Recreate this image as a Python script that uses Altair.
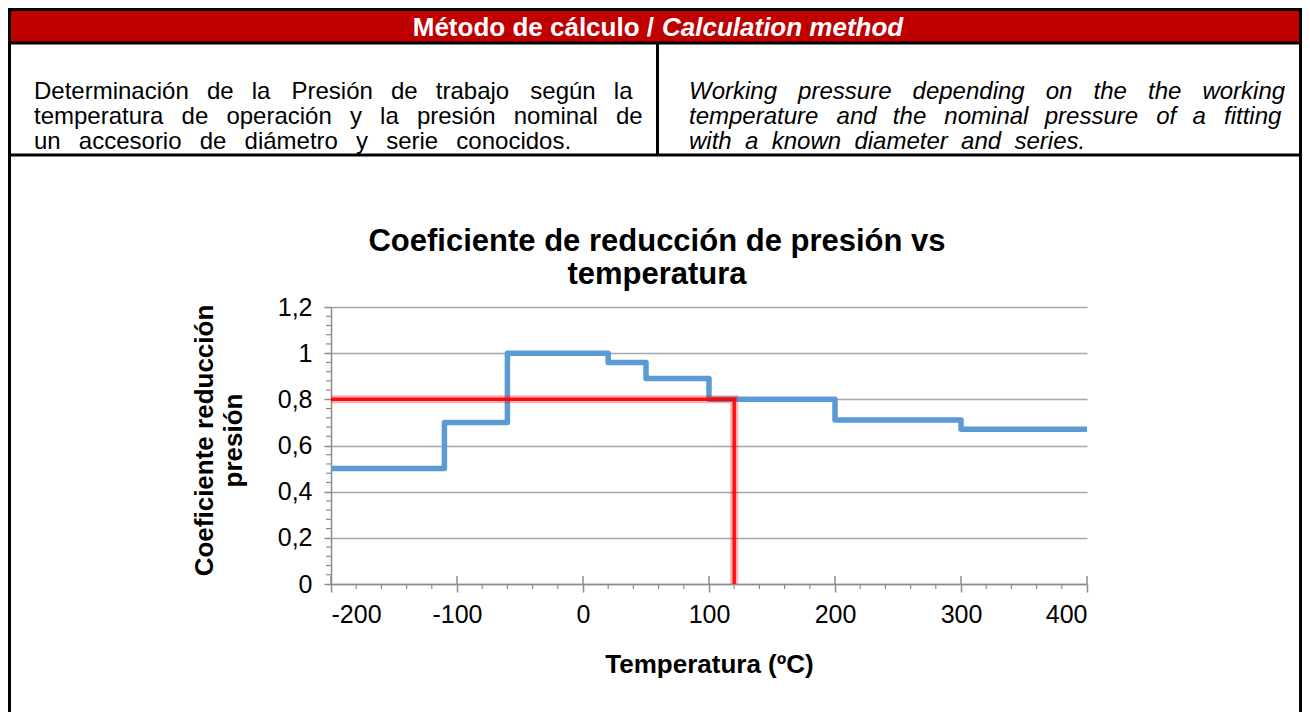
import altair as alt
import pandas as pd

# ---------------- data ----------------
temp_steps = [-200, -110, -60, 20, 50, 100, 200, 300, 400]
coef_steps = [0.5, 0.7, 1.0, 0.96, 0.89, 0.8, 0.71, 0.67, 0.67]
op_temp = [-200, 120, 120]
op_coef = [0.8, 0.8, 0.0]
x_ticks = [-200, -100, 0, 100, 200, 300, 400]
x_minor = [-180, -160, -140, -120, -80, -60, -40, -20, 20, 40, 60, 80,
           120, 140, 160, 180, 220, 240, 260, 280, 320, 340, 360, 380]
y_ticks = [0, 0.2, 0.4, 0.6, 0.8, 1.0, 1.2]
y_minor = [0.04, 0.08, 0.12, 0.16, 0.24, 0.28, 0.32, 0.36, 0.44, 0.48, 0.52, 0.56,
           0.64, 0.68, 0.72, 0.76, 0.84, 0.88, 0.92, 0.96, 1.04, 1.08, 1.12, 1.16]

header_es = "Método de cálculo /"
header_en = "Calculation method"
text_es = ["Determinación de la Presión de trabajo según la",
           "temperatura de operación y la presión nominal de",
           "un accesorio de diámetro y serie conocidos."]
text_en = ["Working pressure depending on the the working",
           "temperature and the nominal pressure of a fitting",
           "with a known diameter and series."]
title_lines = ["Coeficiente de reducción de presión vs", "temperatura"]
y_title = ["Coeficiente reducción", "presión"]
x_title = "Temperatura (ºC)"

# ---------------- layout ----------------
FONT = "Liberation Sans"
OX, OY = 331, 307          # page position of plot origin
W, H = 756, 277            # plot area
PAD = {"left": OX - 8, "top": OY - 8, "right": 1294 - (OX - 8) - W, "bottom": 704 - (OY - 8) - H}


def px(x):
    return x - OX


def py(y):
    return y - OY


# justified paragraph lines: widen word gaps (nbsp = full space, thin space = narrower)
NBSP, THIN = "\u00a0", "\u2009"


def justify(s, extras):
    words = s.split(" ")
    out = words[0]
    for j, w in enumerate(words[1:]):
        out += " " + extras[j % len(extras)] + w
    return out


one = pd.DataFrame({"k": [0]})
steps = pd.DataFrame({"temp": temp_steps, "coef": coef_steps})
op = pd.DataFrame({"temp": op_temp, "coef": op_coef, "i": list(range(len(op_temp)))})

xs = alt.Scale(domain=[-200, 400], nice=False)
ys = alt.Scale(domain=[0, 1.2], nice=False)
GRAY = "#8c8c8c"

x_axis = alt.Axis(values=x_ticks, grid=False,
                  labelExpr="datum.value < 0 ? '-' + abs(datum.value) : '' + datum.value",
                  labelFont=FONT, labelFontSize=25, labelColor="black", labelPadding=10,
                  tickSize=8, tickColor=GRAY, tickWidth=1.5, domainColor=GRAY, domainWidth=1.5,
                  title=x_title, titleFont=FONT, titleFontSize=26, titleFontWeight="bold",
                  titleColor="black", titleY=88, titleBaseline="alphabetic")
y_axis = alt.Axis(values=y_ticks, grid=True, gridColor="#a6a6a6", gridWidth=1.5,
                  labelExpr="replace(format(datum.value, '.1~f'), '.', ',')",
                  labelFont=FONT, labelFontSize=25, labelColor="black", labelPadding=12,
                  tickSize=7, tickColor=GRAY, tickWidth=1.5, domainColor=GRAY, domainWidth=1.5,
                  title=y_title, titleFont=FONT, titleFontSize=26, titleFontWeight="bold",
                  titleColor="black", titleX=px(212), titleY=py(440), titleAngle=270,
                  titleAlign="center", titleBaseline="alphabetic", titleLineHeight=29)

layers = []

base = alt.Chart(steps).mark_line(opacity=0).encode(
    x=alt.X("temp:Q", scale=xs, axis=x_axis),
    y=alt.Y("coef:Q", scale=ys, axis=y_axis),
)
layers.append(base)

# minor ticks
layers.append(alt.Chart(pd.DataFrame({"v": y_minor})).mark_rule(color=GRAY, strokeWidth=1.2).encode(
    y=alt.Y("v:Q", scale=ys), x=alt.value(-5), x2=alt.value(0)))
layers.append(alt.Chart(pd.DataFrame({"v": x_minor})).mark_rule(color=GRAY, strokeWidth=1.2).encode(
    x=alt.X("v:Q", scale=xs), y=alt.value(H), y2=alt.value(H + 5)))
layers.append(alt.Chart(pd.DataFrame({"v": x_ticks})).mark_rule(color=GRAY, strokeWidth=1.5).encode(
    x=alt.X("v:Q", scale=xs), y=alt.value(H - 8), y2=alt.value(H)))

# step series
layers.append(alt.Chart(steps).mark_line(interpolate="step-after", color="#5b9bd5", strokeWidth=5.5,
                                         strokeJoin="round", strokeCap="butt").encode(
    x=alt.X("temp:Q", scale=xs), y=alt.Y("coef:Q", scale=ys)))

# red operating lines
layers.append(alt.Chart(op).mark_line(color="#ff0000", strokeWidth=8, opacity=0.3).encode(
    x=alt.X("temp:Q", scale=xs), y=alt.Y("coef:Q", scale=ys), order="i:O"))
layers.append(alt.Chart(op).mark_line(color="#ff0000", strokeWidth=3.5, opacity=0.9).encode(
    x=alt.X("temp:Q", scale=xs), y=alt.Y("coef:Q", scale=ys), order="i:O"))


# ---------- document table decoration ----------
def rule(x1, y1, x2, y2, w=3, color="black"):
    return alt.Chart(one).mark_rule(color=color, strokeWidth=w).encode(
        x=alt.value(px(x1)), x2=alt.value(px(x2)), y=alt.value(py(y1)), y2=alt.value(py(y2)))


def text(s, x, y, size, align="left", weight="normal", style="normal", color="black"):
    return alt.Chart(one).mark_text(text=s, align=align, baseline="alphabetic", font=FONT,
                                    fontSize=size, fontWeight=weight, fontStyle=style,
                                    color=color).encode(x=alt.value(px(x)), y=alt.value(py(y)))


layers.append(alt.Chart(one).mark_rect(color="#c00000").encode(
    x=alt.value(px(10)), x2=alt.value(px(1300)), y=alt.value(py(10)), y2=alt.value(py(42))))
DIV_Y = 155
layers += [
    rule(9.5, 8, 9.5, 712),
    rule(1300.5, 8, 1300.5, 712),
    rule(8, 9.5, 1302, 9.5),
    rule(8, 43, 1302, 43),
    rule(8, DIV_Y, 1302, DIV_Y),
    rule(657.5, 43, 657.5, DIV_Y),
]
layers.append(text(header_es, 654, 36, 26, align="right", weight="bold", color="white"))
layers.append(text(header_en, 662, 36, 26, align="left", weight="bold", style="italic", color="white"))

BODY = 24
LINE0, LSTEP = 99, 25
gaps_es = [[NBSP + THIN, NBSP + THIN, THIN * 3], [NBSP + THIN], [NBSP + THIN]]
gaps_en = [[THIN * 3], [NBSP + THIN, THIN * 2], [NBSP]]
for i, s in enumerate(text_es):
    layers.append(text(justify(s, gaps_es[i]), 34, LINE0 + LSTEP * i, BODY))
for i, s in enumerate(text_en):
    layers.append(text(justify(s, gaps_en[i]), 689, LINE0 + LSTEP * i, BODY, style="italic"))
for i, s in enumerate(title_lines):
    layers.append(text(s, 657, 251 + 33 * i, 31, align="center", weight="bold"))

chart = alt.layer(*layers).properties(
    width=W, height=H,
    autosize=alt.AutoSizeParams(type="none"),
    padding=PAD,
    background="white",
).configure_view(stroke=None)

chart.save("out.html", embed_options={"renderer": "svg", "actions": False})
